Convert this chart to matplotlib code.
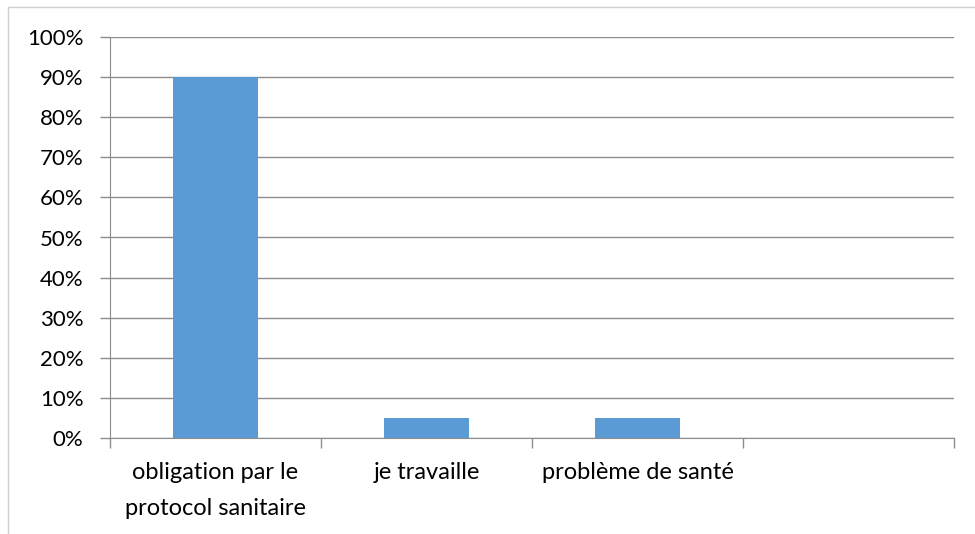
import matplotlib.pyplot as plt
from matplotlib.patches import Rectangle
from matplotlib.ticker import PercentFormatter, MultipleLocator
import numpy as np

categories = ['obligation par le\nprotocol sanitaire', 'je travaille', 'problème de santé', '']
values = [0.90, 0.05, 0.05, 0.0]

plt.rcParams['font.family'] = ['Lato', 'DejaVu Sans']

fig = plt.figure(figsize=(9.75, 5.34), dpi=100)
ax = fig.add_axes([110/975, 1-438/534, (954-110)/975, (438-37)/534])

# outer chart border (only top/left visible in the crop)
fig.patches.append(Rectangle((8/975, -0.1), 1.2, 1 - 7/534 + 0.1, transform=fig.transFigure,
                             fill=False, edgecolor='#d0d0d0', linewidth=1))

indices = np.arange(len(categories))
ax.bar(indices, values, width=0.4, color='#5B9BD5', zorder=3)

ax.set_xlim(-0.5, len(categories) - 0.5)
ax.set_ylim(0, 1)
ax.yaxis.set_major_locator(MultipleLocator(0.1))
ax.yaxis.set_major_formatter(PercentFormatter(1.0, decimals=0))
ax.grid(axis='y', color='#8c8c8c', linewidth=1, zorder=0)

ax.set_xticks(np.arange(-0.5, len(categories)))
ax.set_xticklabels([])
for i, lab in enumerate(categories):
    ax.text(i, -0.06, lab, ha='center', va='top', fontsize=17, linespacing=1.85,
            transform=ax.get_xaxis_transform())

for s in ['top', 'right']:
    ax.spines[s].set_visible(False)
ax.spines['left'].set_color('#8c8c8c')
ax.spines['bottom'].set_color('#8c8c8c')
ax.tick_params(axis='x', length=7, color='#8c8c8c', width=1)
ax.tick_params(axis='y', length=7, color='#8c8c8c', width=1, labelsize=16, pad=12)

fig.savefig('out.png', dpi=100)
